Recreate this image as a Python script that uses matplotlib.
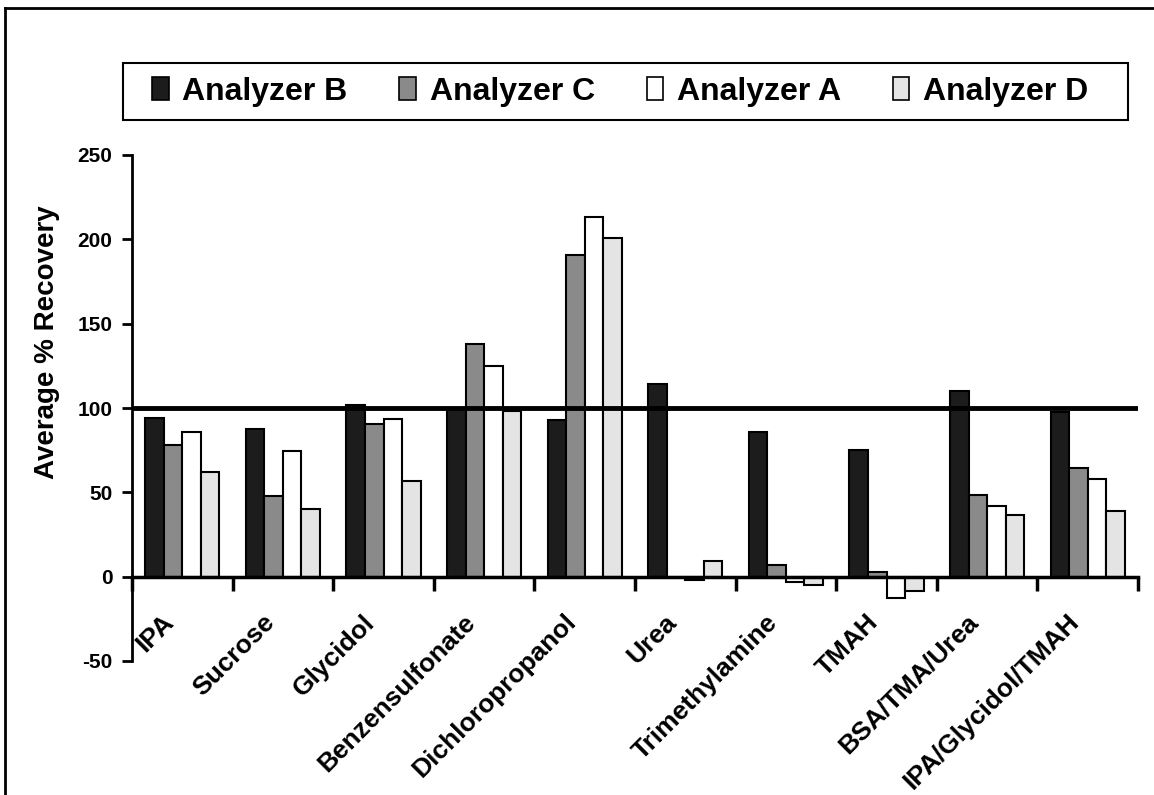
import matplotlib
matplotlib.use("Agg")
import matplotlib.pyplot as plt
import numpy as np
from matplotlib.lines import Line2D
from matplotlib.patches import Patch, Rectangle

categories = ["IPA", "Sucrose", "Glycidol", "Benzensulfonate", "Dichloropropanol",
              "Urea", "Trimethylamine", "TMAH", "BSA/TMA/Urea", "IPA/Glycidol/TMAH"]
series_names = ["Analyzer B", "Analyzer C", "Analyzer A", "Analyzer D"]
analyzer_b = [94, 87.7, 102, 99.5, 92.6, 114.5, 86, 75.2, 109.8, 97.7]
analyzer_c = [78, 48, 90.6, 138, 190.8, 0, 7, 3, 48.4, 64.4]
analyzer_a = [85.7, 74.6, 93.6, 125, 213.5, -2.2, -3.4, -12.6, 42, 58.2]
analyzer_d = [61.8, 40.3, 57, 98.5, 201, 9, -5, -8.3, 36.7, 38.7]
yticks = [-50, 0, 50, 100, 150, 200, 250]
reference_level = 100

plt.rcParams['font.family'] = ['Liberation Sans', 'DejaVu Sans']
plt.rcParams['font.weight'] = 'bold'

W, H = 1154, 795
fig = plt.figure(figsize=(W / 100, H / 100), dpi=100)
ax = fig.add_axes([132 / W, 1 - 661 / H, (1138 - 132) / W, (661 - 155) / H])

colors = ['#1c1c1c', '#8a8a8a', '#ffffff', '#e4e4e4']
all_series = [analyzer_b, analyzer_c, analyzer_a, analyzer_d]
x = np.arange(len(categories))
w = 0.184
for i, (vals, col) in enumerate(zip(all_series, colors)):
    ax.bar(x + (i - 1.5) * w, vals, width=w, color=col, edgecolor='black',
           linewidth=1.5, zorder=2)

ax.axhline(reference_level, color='black', linewidth=3.5, zorder=3)

ax.set_xlim(-0.5, len(categories) - 0.5)
ax.set_ylim(-50, 250)
ax.set_yticks(yticks)
ax.set_yticklabels([str(v) for v in yticks], fontsize=15, fontweight='bold')
ax.tick_params(axis='y', direction='out', length=7, width=2, pad=7)

fig.text(47 / W, 1 - 342 / H, "Average % Recovery", rotation=90, ha='center', va='center',
         fontsize=20, fontweight='bold')

ax.spines['top'].set_visible(False)
ax.spines['right'].set_visible(False)
ax.spines['left'].set_linewidth(2)
ax.spines['bottom'].set_linewidth(2.5)
ax.spines['bottom'].set_position(('data', 0))
ax.set_xticks(np.arange(len(categories) + 1) - 0.5)
ax.set_xticklabels([])
ax.tick_params(axis='x', direction='out', length=10, width=2.5)

for i, cat in enumerate(categories):
    ax.annotate(cat, xy=(i, 0), xytext=(-15, -24), textcoords='offset points',
                rotation=45, ha='right', va='top', rotation_mode='anchor',
                fontsize=19, fontweight='bold', annotation_clip=False)

handles = [Patch(facecolor=c, edgecolor='black', linewidth=1.2) for c in colors]
leg = fig.legend(handles, series_names, loc='center left',
                 bbox_to_anchor=(152 / W, 1 - 92 / H),
                 ncol=4, fontsize=23, frameon=False, borderpad=0, borderaxespad=0,
                 handlelength=0.52, handleheight=0.74, handletextpad=0.43,
                 columnspacing=1.62)
for t in leg.get_texts():
    t.set_fontweight('bold')
fig.add_artist(Rectangle((123 / W, 1 - 120 / H), (1128 - 123) / W, (120 - 63) / H,
                         transform=fig.transFigure, fill=False, edgecolor='black',
                         linewidth=1.5))

# outer frame (top and left edges visible)
fig.add_artist(Line2D([5 / W, 5 / W], [0, 1 - 8 / H], transform=fig.transFigure,
                      color='black', linewidth=2))
fig.add_artist(Line2D([5 / W, 1], [1 - 8 / H, 1 - 8 / H], transform=fig.transFigure,
                      color='black', linewidth=2))

fig.savefig("out.png", dpi=100)
